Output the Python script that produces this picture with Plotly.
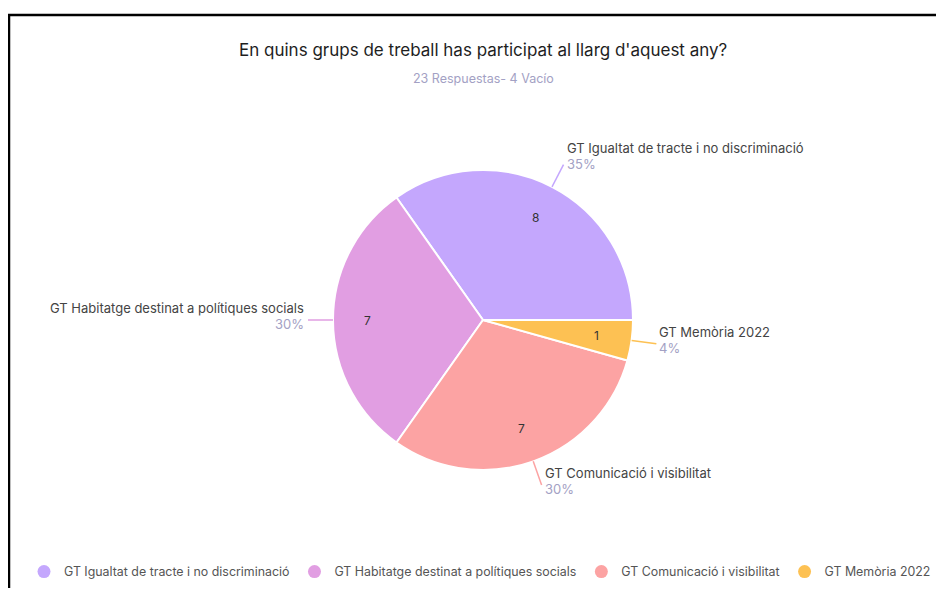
import math
import plotly.graph_objects as go

# page is 944x596; the browser body has an 8px margin, so the figure is placed at (8, 8)
PAGE_OFF = 8
W, H = 928, 580

title = "En quins grups de treball has participat al llarg d'aquest any?"
subtitle = "23 Respuestas- 4 Vacío"
labels = ["GT Igualtat de tracte i no discriminació",
          "GT Habitatge destinat a polítiques socials",
          "GT Comunicació i visibilitat",
          "GT Memòria 2022"]
values = [8, 7, 7, 1]
colors = ["#c4a7fd", "#e19ee2", "#fca3a3", "#fdc153"]

FONT = "Inter, Noto Sans, sans-serif"
cx, cy, R = 483, 320, 150  # pie center / radius in page px


def px(x):
    return (x - PAGE_OFF) / W


def py(y):
    return 1 - (y - PAGE_OFF) / H


total = sum(values)
# plotly (counterclockwise) puts the END of the first slice at the rotation angle;
# we want the first slice to START at 3 o'clock
rotation = 90 - 360 * values[0] / total

fig = go.Figure()
fig.add_trace(go.Pie(
    labels=labels, values=values, sort=False, direction="counterclockwise",
    rotation=rotation, marker=dict(colors=colors, line=dict(color="white", width=2)),
    textinfo="none", textposition="none",
    domain=dict(x=[px(cx - R), px(cx + R)], y=[py(cy + R), py(cy - R)]),
    showlegend=False, hoverinfo="label+value+percent",
))

# legend entries (circle markers)
for lab, col in zip(labels, colors):
    fig.add_trace(go.Scatter(x=[None], y=[None], mode="markers", name=lab,
                             marker=dict(symbol="circle", size=13, color=col)))

shapes = [dict(type="rect", xref="paper", yref="paper",
               x0=px(9), y0=py(15), x1=px(990), y1=py(640),
               line=dict(color="black", width=2.5), fillcolor="rgba(0,0,0,0)")]
annotations = [
    dict(text=title, x=px(483), y=py(50), xref="paper", yref="paper",
         xanchor="center", yanchor="middle",
         showarrow=False, font=dict(family=FONT, size=17, color="#1e1e1e")),
    dict(text=subtitle, x=px(483), y=py(79), xref="paper", yref="paper",
         xanchor="center", yanchor="middle",
         showarrow=False, font=dict(family=FONT, size=12.5, color="#a3a1c4")),
]

start = 0.0
for lab, v, col in zip(labels, values, colors):
    frac = v / total
    mid = math.radians(start + frac * 180)
    start += frac * 360
    ca, sa = math.cos(mid), math.sin(mid)
    # value inside slice
    vx, vy = cx + 0.767 * R * ca, cy - 0.767 * R * sa
    annotations.append(dict(text=str(v), x=px(vx), y=py(vy), xref="paper", yref="paper",
                            xanchor="center", yanchor="middle", showarrow=False,
                            font=dict(family=FONT, size=12, color="#333333")))
    # leader line
    x0, y0 = cx + R * ca, cy - R * sa
    x1, y1 = cx + (R + 25) * ca, cy - (R + 25) * sa
    shapes.append(dict(type="line", xref="paper", yref="paper",
                       x0=px(x0), y0=py(y0), x1=px(x1), y1=py(y1),
                       line=dict(color=col, width=1.5)))
    right = ca >= 0
    lx = x1 + (3 if right else -4)
    by = y1 - (9 if sa > 0.5 else 4)
    anchor = "left" if right else "right"
    annotations.append(dict(text=lab, x=px(lx), y=py(by), xref="paper", yref="paper",
                            xanchor=anchor, yanchor="bottom", showarrow=False,
                            borderpad=0, borderwidth=0,
                            font=dict(family=FONT, size=13, color="#444444")))
    annotations.append(dict(text=f"{round(frac * 100)}%", x=px(lx), y=py(by),
                            xref="paper", yref="paper",
                            xanchor=anchor, yanchor="top", showarrow=False,
                            borderpad=0, borderwidth=0,
                            font=dict(family=FONT, size=13, color="#a3a1c4")))

fig.update_layout(
    width=W, height=H, margin=dict(l=0, r=0, t=0, b=0),
    paper_bgcolor="white", plot_bgcolor="white",
    xaxis=dict(visible=False), yaxis=dict(visible=False),
    shapes=shapes, annotations=annotations,
    legend=dict(orientation="h", x=px(482), xanchor="center", y=py(572), yanchor="middle",
                font=dict(family=FONT, size=12.4, color="#555555"), itemwidth=30,
                tracegroupgap=0),
    hovermode=False,
)

fig.write_html("out.html")
